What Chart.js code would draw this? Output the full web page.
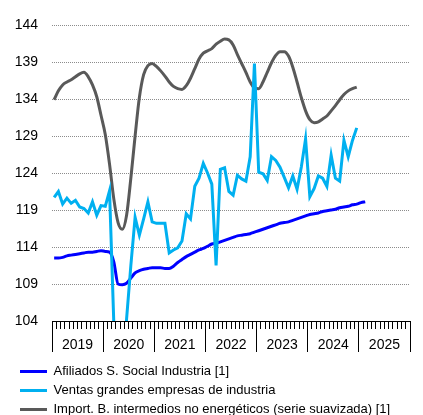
<!DOCTYPE html>
<html lang="es">
<head>
<meta charset="utf-8">
<title>Indicadores de industria</title>
<script src="https://cdn.jsdelivr.net/npm/chart.js@4.4.1/dist/chart.umd.min.js"></script>
<style>
  html, body { margin: 0; padding: 0; background: #fff; }
</style>
</head>
<body>
<canvas id="chart" width="423" height="415"></canvas>
<script>
// monthly series, first value = Jan 2019
const years = ['2019', '2020', '2021', '2022', '2023', '2024', '2025'];
const yTicks = [104, 109, 114, 119, 124, 129, 134, 139, 144];

const afiliados = [
  112.5, 112.5, 112.6, 112.8, 112.9, 113.0, 113.1, 113.2, 113.3, 113.3, 113.4, 113.5,
  113.4, 113.3, 112.0, 109.0, 108.9, 109.1, 109.8, 110.5, 110.8, 111.0, 111.1, 111.2,
  111.2, 111.2, 111.1, 111.1, 111.4, 111.9, 112.3, 112.7, 113.0, 113.3, 113.6, 113.8,
  114.1, 114.4, 114.5, 114.7, 114.9, 115.1, 115.3, 115.5, 115.6, 115.7, 115.8, 116.0,
  116.2, 116.4, 116.6, 116.8, 117.0, 117.2, 117.3, 117.4, 117.6, 117.8, 118.0, 118.2,
  118.4, 118.5, 118.6, 118.8, 118.9, 119.0, 119.1, 119.3, 119.4, 119.5, 119.7, 119.8,
  120.0, 120.1
];

const ventas = [
  120.7, 121.5, 119.8, 120.6, 119.9, 120.3, 119.4, 119.2, 118.6, 120.1, 118.3, 119.6,
  119.5, 121.6, 103.8, 78.0, 90.0, 104.3, 111.5, 118.0, 115.6, 117.8, 120.1, 117.4,
  117.2, 117.2, 117.2, 113.2, 113.6, 113.9, 114.8, 118.5, 117.8, 122.2, 123.3, 125.3,
  124.0, 122.5, 111.5, 124.5, 124.7, 121.5, 121.0, 123.7, 123.2, 122.9, 126.2, 138.8,
  124.1, 123.9, 123.0, 126.2, 125.7, 124.8, 123.4, 122.0, 123.6, 121.8, 124.8, 128.6,
  120.8, 121.9, 123.6, 123.3, 122.2, 126.4, 123.3, 122.9, 128.4, 126.2, 128.4, 130.1
];

const importaciones = [
  133.9, 135.1, 135.9, 136.3, 136.6, 137.0, 137.4, 137.6, 137.0, 135.9, 134.3, 131.8,
  129.2, 125.2, 120.5, 117.3, 116.4, 118.3, 123.3, 129.0, 134.2, 137.3, 138.5, 138.8,
  138.4, 137.8, 137.1, 136.3, 135.7, 135.4, 135.3, 135.8, 136.8, 138.1, 139.4, 140.2,
  140.5, 140.8, 141.4, 141.8, 142.1, 142.0, 141.3, 140.0, 138.8, 137.6, 136.3, 135.5,
  135.4, 136.3, 137.6, 138.9, 139.9, 140.4, 140.4, 139.8, 138.3, 136.3, 134.2, 132.4,
  131.2, 130.8, 130.9, 131.3, 131.7, 132.4, 133.1, 133.9, 134.6, 135.1, 135.4, 135.6
];

const MONTHS = years.length * 12;
// each month sits in the middle of its slot
const toPoints = arr => arr.map((v, i) => ({ x: i + 0.5, y: v }));
const monthTicks = Array.from({ length: MONTHS + 1 }, (_, k) => ({ value: k }));

Chart.defaults.font.family = "'Liberation Sans', Arial, sans-serif";
Chart.defaults.font.size = 14;
Chart.defaults.color = '#000';

// the legend sits a few px lower than the layout allows
const nudgeLegend = {
  id: 'nudgeLegend',
  afterLayout(chart) {
    const lg = chart.legend;
    if (lg) { lg.top += 7; lg.bottom += 7; }
  },
};

new Chart(document.getElementById('chart'), {
  type: 'line',
  data: {
    datasets: [
      {
        label: 'Afiliados S. Social Industria [1]',
        data: toPoints(afiliados),
        borderColor: '#0000ff',
        backgroundColor: '#0000ff',
        borderWidth: 3,
        cubicInterpolationMode: 'monotone',
        order: 1,
      },
      {
        label: 'Ventas grandes empresas de industria',
        data: toPoints(ventas),
        borderColor: '#00b0f0',
        backgroundColor: '#00b0f0',
        borderWidth: 3,
        tension: 0,
        order: 0,
      },
      {
        label: 'Import. B. intermedios no energéticos (serie suavizada) [1]',
        data: toPoints(importaciones),
        borderColor: '#595959',
        backgroundColor: '#595959',
        borderWidth: 3,
        cubicInterpolationMode: 'monotone',
        order: 2,
      },
    ],
  },
  options: {
    responsive: false,
    animation: false,
    devicePixelRatio: 1,
    layout: { padding: { left: 14, right: 13, top: 25, bottom: -4 } },
    elements: { point: { radius: 0, pointStyle: 'line' } },
    scales: {
      y: {
        min: 104,
        max: 144,
        afterBuildTicks: s => { s.ticks = yTicks.map(v => ({ value: v })); },
        afterFit: s => { s.width = 38; },
        border: { display: false, dash: [1, 1] },
        grid: {
          drawTicks: false,
          color: c => (c.tick && c.tick.value === 104 ? 'rgba(0,0,0,0)' : '#8c8c8c'),
          borderDash: [1, 1],
        },
        ticks: { padding: 14, font: { size: 14 } },
      },
      // monthly tick marks; the ones on a year boundary run down as dividers
      x: {
        type: 'linear',
        min: 0,
        max: MONTHS,
        afterBuildTicks: s => { s.ticks = monthTicks.map(t => ({ ...t })); },
        afterFit: s => { s.height = 31; },
        border: { display: true, color: '#000', width: 1 },
        grid: {
          drawOnChartArea: false,
          drawTicks: true,
          tickLength: 31,
          color: '#000',
          tickColor: '#000',
          tickWidth: 1,
          tickBorderDash: c => (c.tick && c.tick.value % 12 === 0 ? [] : [7, 60]),
        },
        ticks: {
          autoSkip: false,
          maxRotation: 0,
          padding: -15,
          font: { size: 14 },
          callback: v => (v % 12 === 6 ? years[(v - 6) / 12] : ''),
        },
      },
    },
    plugins: {
      tooltip: { enabled: false },
      legend: {
        position: 'bottom',
        align: 'start',
        labels: {
          usePointStyle: true,
          pointStyleWidth: 27,
          padding: 6,
          color: '#000',
          font: { size: 13 },
          sort: (a, b) => a.datasetIndex - b.datasetIndex,
        },
      },
    },
  },
  plugins: [nudgeLegend],
});
</script>
</body>
</html>
